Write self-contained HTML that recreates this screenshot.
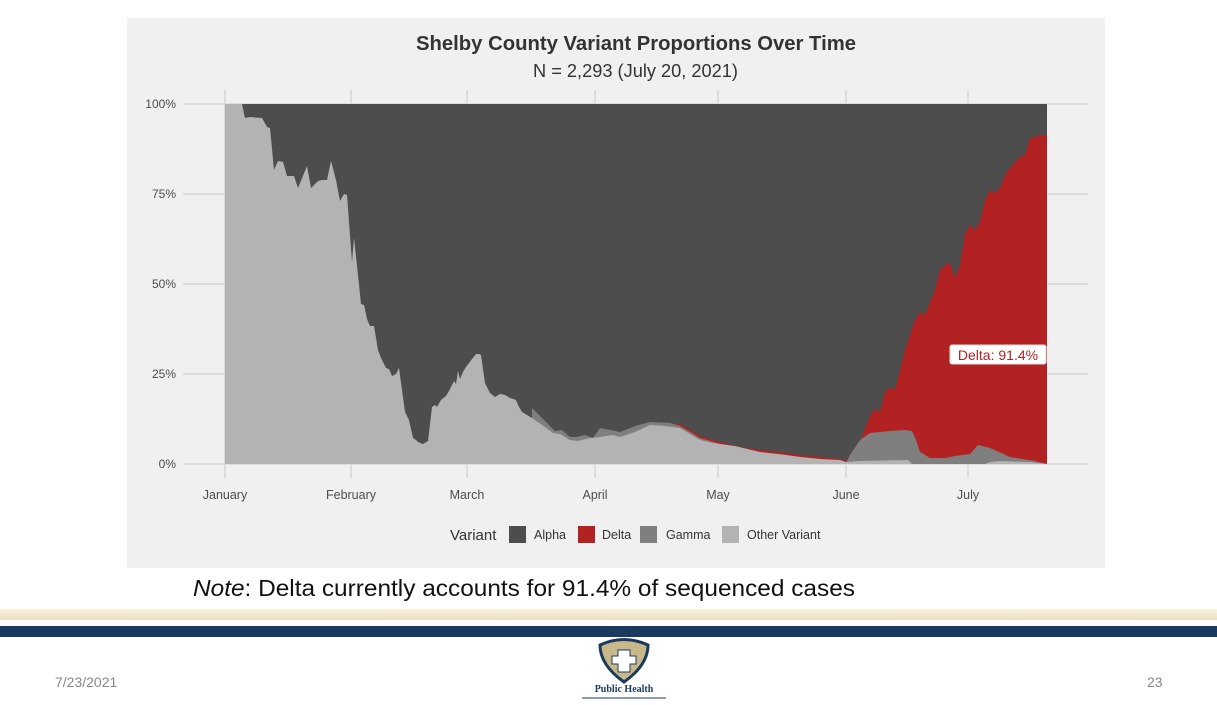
<!DOCTYPE html>
<html><head><meta charset="utf-8"><style>
body{margin:0;width:1217px;height:705px;background:#fff;overflow:hidden;position:relative;font-family:"Liberation Sans",sans-serif}
.abs{position:absolute}
</style></head><body>
<svg class="abs" style="left:0;top:0" width="1217" height="705">
<rect x="127" y="18" width="978" height="550" fill="#f0f0f0"/>
<g stroke="#d6d6d6" stroke-width="1.5">
<line x1="183" x2="1088" y1="104" y2="104"/><line x1="183" x2="1088" y1="194" y2="194"/><line x1="183" x2="1088" y1="284" y2="284"/><line x1="183" x2="1088" y1="374" y2="374"/><line x1="183" x2="1088" y1="464" y2="464"/>
<line x1="225" x2="225" y1="90" y2="478"/><line x1="351" x2="351" y1="90" y2="478"/><line x1="467" x2="467" y1="90" y2="478"/><line x1="595" x2="595" y1="90" y2="478"/><line x1="718" x2="718" y1="90" y2="478"/><line x1="846" x2="846" y1="90" y2="478"/><line x1="968" x2="968" y1="90" y2="478"/>
</g>
<rect x="225" y="104" width="822" height="360" fill="#4d4d4d"/>
<polygon fill="#b22222" points="675,424 680,424 700,436 720,442 740,447 760,450 780,452 800,455 820,457 840,459 846,461 855,448 862,437 870,416 875,409 880,412 885,392 890,387 895,390 900,370 905,350 910,335 915,320 920,312 925,315 930,302 935,290 940,270 945,265 950,263 955,278 960,265 965,234 970,225 975,230 980,222 985,200 990,190 995,193 1000,188 1005,175 1010,168 1015,162 1020,157 1025,155 1030,138 1035,137 1040,135 1047,135 1047,464 675,464"/>
<polygon fill="#7f7f7f" points="532,408 540,416 548,424 555,431 562,430 570,437 577,437 585,435 593,438 600,428 620,432 635,426 650,422 670,423 680,426 700,438 720,444 740,449 760,452 780,454 800,457 820,459 840,461 846,463 850,455 860,440 870,433 890,431 905,430 912,431 916,440 920,452 930,458 945,458 955,456 970,454 978,445 990,448 1010,457 1035,461 1047,464 532,464"/>
<polygon fill="#b3b3b3" points="225,104 242,104 245,118 250,117 262,118 267,127 270,128 274,170 278,161 283,162 287,176 294,176 298,188 307,166 311,188 318,181 322,180 327,180 331,161 336,180 340,201 344,194 347,195 352,262 354,238 358,275 361,304 364,305 367,319 370,326 374,326 378,350 381,358 386,368 389,369 392,376 396,374 399,368 405,412 409,420 413,438 416,440 418,442 423,444 428,441 432,407 435,405 437,407 441,400 446,396 449,391 452,385 454,381 456,384 458,371 460,379 463,372 466,367 469,363 472,359 476,354 479,354 481,355 482,362 485,383 490,393 495,397 500,394 505,395 510,398 516,400 519,407 522,412 532,418 545,427 553,433 560,434 570,440 578,441 590,438 600,437 612,435 620,437 635,432 650,425 665,426 680,428 700,440 713,443 735,446 760,452 785,455 800,457 820,459 840,460 846,462 860,461 908,460 912,464 985,464 990,462 1000,461 1030,462 1047,464 1047,464 225,464"/>
<rect x="950" y="345" width="96" height="19" rx="2" fill="#fff" stroke="#ddd"/>
<text x="998" y="360" font-size="14" fill="#b22222" text-anchor="middle">Delta: 91.4%</text>
<g font-size="12" fill="#4d4d4d" text-anchor="end">
<text x="176" y="108">100%</text><text x="176" y="198">75%</text><text x="176" y="288">50%</text><text x="176" y="378">25%</text><text x="176" y="468">0%</text></g>
<g font-size="12.5" fill="#4d4d4d" text-anchor="middle">
<text x="225" y="499">January</text><text x="351" y="499">February</text><text x="467" y="499">March</text><text x="595" y="499">April</text><text x="718" y="499">May</text><text x="846" y="499">June</text><text x="968" y="499">July</text></g>
<text x="416" y="50" font-size="20" font-weight="bold" fill="#333" textLength="440" lengthAdjust="spacingAndGlyphs">Shelby County Variant Proportions Over Time</text>
<text x="533" y="77" font-size="18" fill="#333" textLength="205" lengthAdjust="spacingAndGlyphs">N = 2,293 (July 20, 2021)</text>
<text x="450" y="540" font-size="15" fill="#333">Variant</text>
<rect x="509" y="526" width="17" height="17" fill="#4d4d4d"/><text x="534" y="539" font-size="12.5" fill="#333">Alpha</text>
<rect x="578" y="526" width="17" height="17" fill="#b22222"/><text x="602" y="539" font-size="12.5" fill="#333">Delta</text>
<rect x="640" y="526" width="17" height="17" fill="#7f7f7f"/><text x="666" y="539" font-size="12.5" fill="#333">Gamma</text>
<rect x="722" y="526" width="17" height="17" fill="#b3b3b3"/><text x="747" y="539" font-size="12.5" fill="#333">Other Variant</text>
<text x="193" y="596" font-size="23" fill="#111" textLength="662" lengthAdjust="spacingAndGlyphs"><tspan font-style="italic">Note</tspan>: Delta currently accounts for 91.4% of sequenced cases</text>
<defs><linearGradient id="cr" x1="0" y1="0" x2="0" y2="1"><stop offset="0" stop-color="#fbf3df"/><stop offset="1" stop-color="#eadfbf"/></linearGradient></defs>
<rect x="0" y="609" width="1217" height="11" fill="url(#cr)"/>
<rect x="0" y="626" width="1217" height="11" fill="#1b3a5f"/>
<text x="55" y="687" font-size="14" fill="#888">7/23/2021</text>
<text x="1147" y="687" font-size="14" fill="#888">23</text>
<path d="M600,645 Q624,634 648,645 Q648,665 624,682 Q600,665 600,645Z" fill="#c8b88a" stroke="#1b3a5f" stroke-width="3"/>
<path d="M618,650 h12 v6 h6 v8 h-6 v8 h-12 v-8 h-6 v-8 h6z" fill="#fff" stroke="#1b3a5f" stroke-width="1"/>
<text x="624" y="692" font-size="10" font-weight="bold" fill="#1b3a5f" text-anchor="middle" font-family="Liberation Serif,serif">Public Health</text>
<line x1="582" x2="666" y1="698" y2="698" stroke="#1b3a5f"/>
</svg>
</body></html>
